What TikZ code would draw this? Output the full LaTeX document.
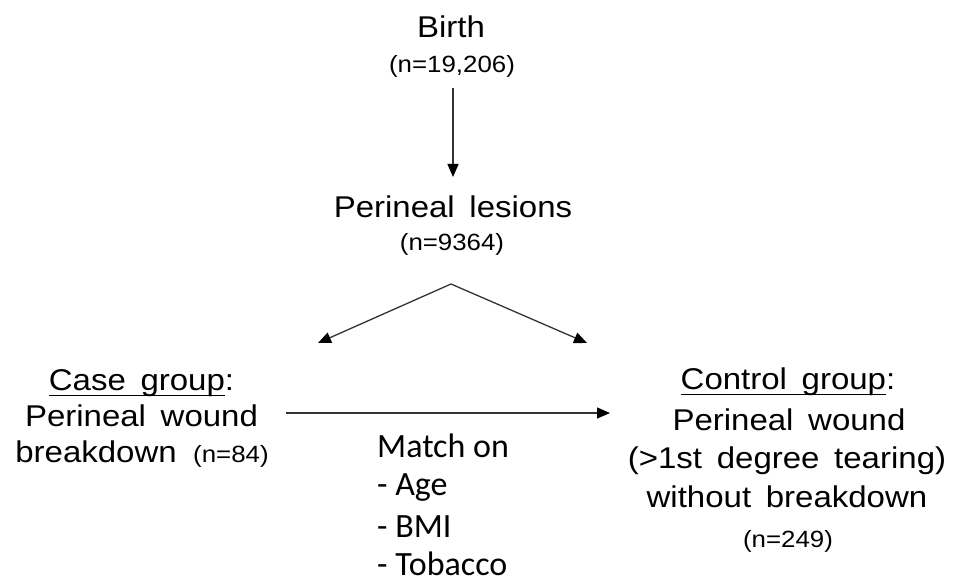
\documentclass[tikz,border=0pt]{standalone}
\usepackage{fontspec}
\setmainfont[WordSpace=1.6]{Liberation Sans}
\newfontfamily\calib{Carlito}
\usetikzlibrary{arrows.meta}
\newcommand\sx[1]{\scalebox{1.1}[1]{#1}}
\newcommand\myul[1]{\setbox0\hbox{#1}\rlap{\rule[-6pt]{\wd0}{1.4pt}}\box0}
\begin{document}
\begin{tikzpicture}[x=1pt,y=-1pt,
  big/.style={anchor=base,inner sep=0pt,font=\fontsize{30}{36}\selectfont},
  small/.style={anchor=base,inner sep=0pt,font=\fontsize{23.5}{28}\selectfont},
  cal/.style={anchor=base west,inner sep=0pt,font=\calib\fontsize{34}{40}\selectfont},
  conn/.style={draw=black!80,line width=1.3pt,-{Triangle[length=13pt,width=11pt,color=black]}}]
\useasboundingbox (0,0) rectangle (956,583);
% top
\node[big] (birth) at (451,38) {\sx{Birth}};
\node[small] (birthn) at (452,73) {\sx{(n=19,206)}};
\node[big] (les) at (453,217) {\sx{Perineal lesions}};
\node[small] (lesn) at (452,250) {\sx{(n=9364)}};
% case group
\node[big] (case1) at (141.5,390) {\sx{\myul{Case group}:}};
\node[big] (case2) at (141.5,426) {\sx{Perineal wound}};
\node[big,anchor=base east] (case3) at (177,462) {\sx{breakdown}};
\node[small,anchor=base west] (casen) at (193,462) {\sx{(n=84)}};
% control group
\node[big] (ctl1) at (788,389) {\sx{\myul{Control group}:}};
\node[big] (ctl2) at (789,430) {\sx{Perineal wound}};
\node[big] (ctl3) at (787,468) {\sx{(>1st degree tearing)}};
\node[big] (ctl4) at (787,507) {\sx{without breakdown}};
\node[small] (ctln) at (788,547) {\sx{(n=249)}};
% match
\node[cal] (m1) at (377,457) {Match on};
\node[cal] (m2) at (377,495) {- Age};
\node[cal] (m3) at (377,537) {- BMI};
\node[cal] (m4) at (377,575) {- Tobacco};
% connectors
\coordinate (v0) at (453,88);
\coordinate (v1) at (453,177);
\coordinate (apex) at (451,284);
\coordinate (dl) at (318,343);
\coordinate (dr) at (587,343);
\coordinate (h0) at (286,413);
\coordinate (h1) at (610,413);
\draw[conn] (v0) -- (v1);
\draw[conn] (apex) -- (dl);
\draw[conn] (apex) -- (dr);
\draw[conn] (h0) -- (h1);
\end{tikzpicture}
\end{document}
